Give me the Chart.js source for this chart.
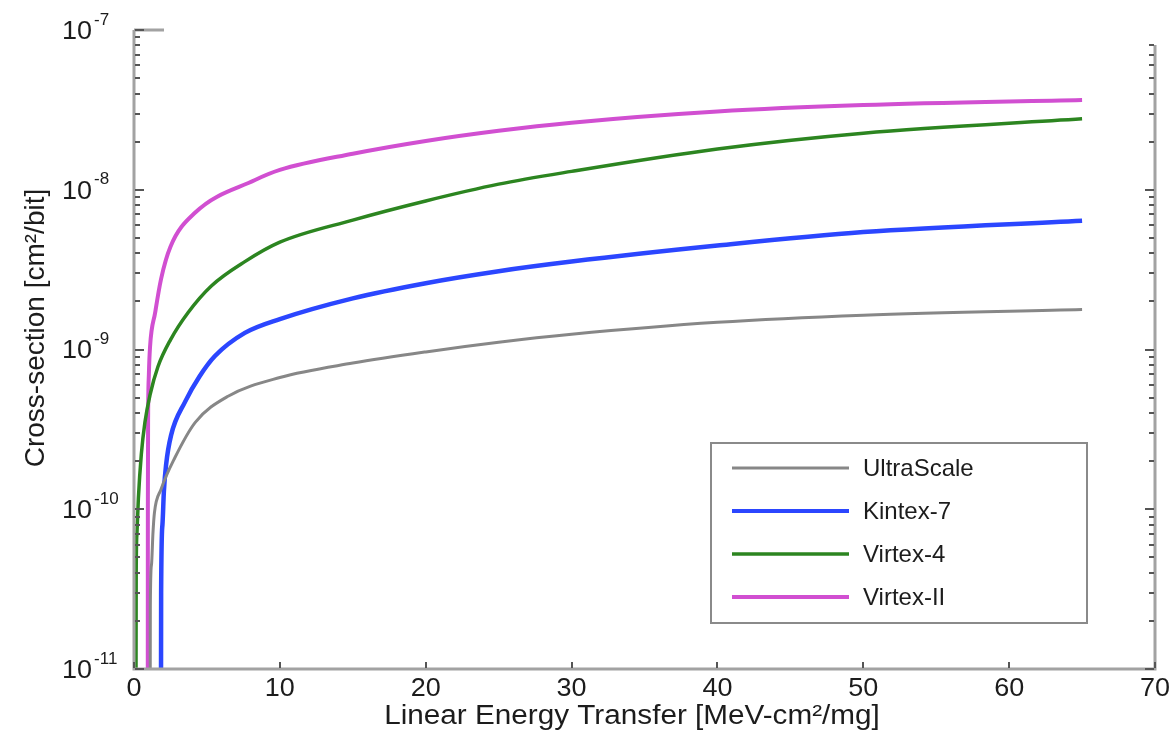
<!DOCTYPE html>
<html>
<head>
<meta charset="utf-8">
<script src="https://cdn.jsdelivr.net/npm/chart.js@4.4.1/dist/chart.umd.min.js"></script>
<style>
  html, body { margin: 0; padding: 0; background: #fff; }
  #wrap { width: 1175px; height: 738px; }
</style>
</head>
<body>
<div id="wrap"><canvas id="sigmaChart" width="1175" height="738"></canvas></div>
<script>
// LET in MeV-cm2/mg, cross-section in cm2/bit
const ultraScaleLet   = [1.1, 1.12, 1.2, 1.3, 1.4, 1.85, 2.8, 4.2, 6.45, 10, 15, 20, 25, 30, 40, 50, 65];
const ultraScaleSigma = [1e-12, 2.5e-11, 4.5e-11, 7.1e-11, 9.5e-11, 1.33e-10, 2.1e-10, 3.5e-10, 5.1e-10, 6.68e-10, 8.22e-10, 9.66e-10, 1.11e-9, 1.245e-9, 1.48e-9, 1.64e-9, 1.78e-9];

const kintex7Let   = [1.84, 1.86, 1.95, 2.05, 2.2, 2.54, 3.5, 4.5, 5.55, 7.6, 10, 15, 20, 25, 30, 40, 50, 65];
const kintex7Sigma = [1e-12, 3e-11, 8e-11, 1.3e-10, 1.9e-10, 2.9e-10, 4.7e-10, 6.8e-10, 9.1e-10, 1.27e-9, 1.55e-9, 2.09e-9, 2.6e-9, 3.09e-9, 3.55e-9, 4.47e-9, 5.43e-9, 6.4e-9];

const virtex4Let   = [0.12, 0.15, 0.2, 0.3, 0.5, 0.75, 1.1, 1.64, 2.5, 3.7, 5.3, 7.6, 10, 15, 20, 25, 30, 40, 50, 65];
const virtex4Sigma = [1e-12, 4e-11, 7e-11, 1.17e-10, 2.2e-10, 3.5e-10, 5.2e-10, 7.8e-10, 1.15e-9, 1.7e-9, 2.5e-9, 3.55e-9, 4.7e-9, 6.46e-9, 8.51e-9, 1.084e-8, 1.303e-8, 1.8e-8, 2.26e-8, 2.78e-8];

const virtex2Let   = [0.94, 0.95, 0.97, 1.02, 1.1, 1.45, 1.85, 2.5, 4.2, 8.3, 10, 15, 20, 25, 30, 40, 50, 65];
const virtex2Sigma = [1e-12, 1e-10, 4e-10, 7e-10, 1.04e-9, 1.7e-9, 2.75e-9, 4.4e-9, 7.2e-9, 1.15e-8, 1.33e-8, 1.68e-8, 2.02e-8, 2.34e-8, 2.63e-8, 3.09e-8, 3.39e-8, 3.65e-8];

const xTickValues = [0, 10, 20, 30, 40, 50, 60, 70];
const yTickExponents = [-11, -10, -9, -8, -7];

const FONT = '"Liberation Sans", Arial, sans-serif';
const AXIS_GREY = '#a2a2a2';

function toPoints(xs, ys) {
    return xs.map((x, i) => ({ x: x, y: ys[i] }));
}

function makeSet(label, xs, ys, color, width) {
    return {
        label: label,
        data: toPoints(xs, ys),
        borderColor: color,
        backgroundColor: color,
        borderWidth: width,
        pointRadius: 0,
        cubicInterpolationMode: 'monotone',
        fill: false
    };
}

// text stretched sideways a little, like the scaled-up original
function stretchedText(ctx, text, x, y, sx) {
    ctx.save();
    ctx.translate(x, y);
    ctx.scale(sx, 1);
    ctx.fillText(text, 0, 0);
    ctx.restore();
}

// draws the MATLAB style box, inward ticks, labels and the boxed legend
const matlabFrame = {
    id: 'matlabFrame',
    afterDraw(chart) {
        const ctx = chart.ctx;
        const { left, right, top, bottom } = chart.chartArea;
        const xs = chart.scales.x;
        const ys = chart.scales.y;
        const rightTop = top + 15;

        ctx.save();

        // axis lines
        ctx.strokeStyle = AXIS_GREY;
        ctx.lineWidth = 3;
        ctx.beginPath();
        ctx.moveTo(left, top); ctx.lineTo(left, bottom);
        ctx.lineTo(right, bottom); ctx.lineTo(right, rightTop);
        ctx.moveTo(left, top); ctx.lineTo(left + 30, top);
        ctx.stroke();

        // y ticks, major + minor, both sides
        ctx.strokeStyle = '#555';
        ctx.lineWidth = 2;
        ctx.beginPath();
        yTickExponents.forEach(e => {
            for (let m = 1; m <= 9; m++) {
                const v = m * Math.pow(10, e);
                if (v > ys.max * 1.0001) break;
                const py = Math.round(ys.getPixelForValue(v));
                const len = m === 1 ? 9 : 5;
                ctx.moveTo(left + 1, py); ctx.lineTo(left + 1 + len, py);
                if (py >= rightTop) {
                    ctx.moveTo(right - 1, py); ctx.lineTo(right - 1 - len, py);
                }
            }
        });
        // x ticks
        xTickValues.forEach(v => {
            const px = Math.round(xs.getPixelForValue(v));
            ctx.moveTo(px, bottom - 1); ctx.lineTo(px, bottom - 7);
        });
        ctx.stroke();

        ctx.fillStyle = '#1c1c1c';

        // x tick labels
        ctx.font = '25px ' + FONT;
        ctx.textAlign = 'center';
        ctx.textBaseline = 'middle';
        xTickValues.forEach(v => {
            stretchedText(ctx, String(v), xs.getPixelForValue(v), bottom + 20, 1.08);
        });

        // y tick labels 10^n
        yTickExponents.forEach(e => {
            const py = ys.getPixelForValue(Math.pow(10, e));
            ctx.font = '25px ' + FONT;
            ctx.textAlign = 'left';
            ctx.textBaseline = 'middle';
            stretchedText(ctx, '10', 62, py + 2, 1.08);
            const w = ctx.measureText('10').width * 1.08;
            ctx.font = '17px ' + FONT;
            ctx.fillText(String(e), 62 + w + 2, py - 10);
        });

        // axis titles
        ctx.font = '27px ' + FONT;
        ctx.textAlign = 'center';
        ctx.textBaseline = 'middle';
        stretchedText(ctx, 'Linear Energy Transfer [MeV-cm\u00B2/mg]', 632, bottom + 48, 1.1);
        ctx.save();
        ctx.translate(36, 328);
        ctx.rotate(-Math.PI / 2);
        ctx.font = '28px ' + FONT;
        ctx.fillText('Cross-section [cm\u00B2/bit]', 0, 0);
        ctx.restore();

        // legend box
        const lx = 711, ly = 443, lw = 376, lh = 180;
        ctx.fillStyle = '#fff';
        ctx.fillRect(lx, ly, lw, lh);
        ctx.strokeStyle = '#8a8a8a';
        ctx.lineWidth = 2;
        ctx.strokeRect(lx, ly, lw, lh);
        ctx.font = '24px ' + FONT;
        ctx.textAlign = 'left';
        ctx.textBaseline = 'middle';
        chart.data.datasets.forEach((ds, i) => {
            const ry = ly + 25 + i * 43;
            ctx.strokeStyle = ds.borderColor;
            ctx.lineWidth = Math.min(ds.borderWidth, 4);
            ctx.beginPath();
            ctx.moveTo(lx + 21, ry); ctx.lineTo(lx + 138, ry);
            ctx.stroke();
            ctx.fillStyle = '#1c1c1c';
            ctx.fillText(ds.label, lx + 152, ry + 1);
        });

        ctx.restore();
    }
};

new Chart(document.getElementById('sigmaChart'), {
    type: 'line',
    data: {
        datasets: [
            makeSet('UltraScale', ultraScaleLet, ultraScaleSigma, '#878787', 3),
            makeSet('Kintex-7', kintex7Let, kintex7Sigma, '#2b46ff', 4.5),
            makeSet('Virtex-4', virtex4Let, virtex4Sigma, '#2c8520', 3.5),
            makeSet('Virtex-II', virtex2Let, virtex2Sigma, '#d14fd1', 4)
        ]
    },
    options: {
        responsive: false,
        animation: false,
        layout: { padding: { top: 30, right: 20, left: 0, bottom: 0 } },
        plugins: {
            legend: { display: false },
            tooltip: { enabled: false }
        },
        scales: {
            x: {
                type: 'linear',
                min: 0,
                max: 70,
                grid: { display: false },
                border: { display: false },
                ticks: { display: false },
                afterFit: s => { s.height = 69; }
            },
            y: {
                type: 'logarithmic',
                min: 1e-11,
                max: 1e-7,
                grid: { display: false },
                border: { display: false },
                ticks: { display: false },
                afterFit: s => { s.width = 134; }
            }
        }
    },
    plugins: [matlabFrame]
});
</script>
</body>
</html>
